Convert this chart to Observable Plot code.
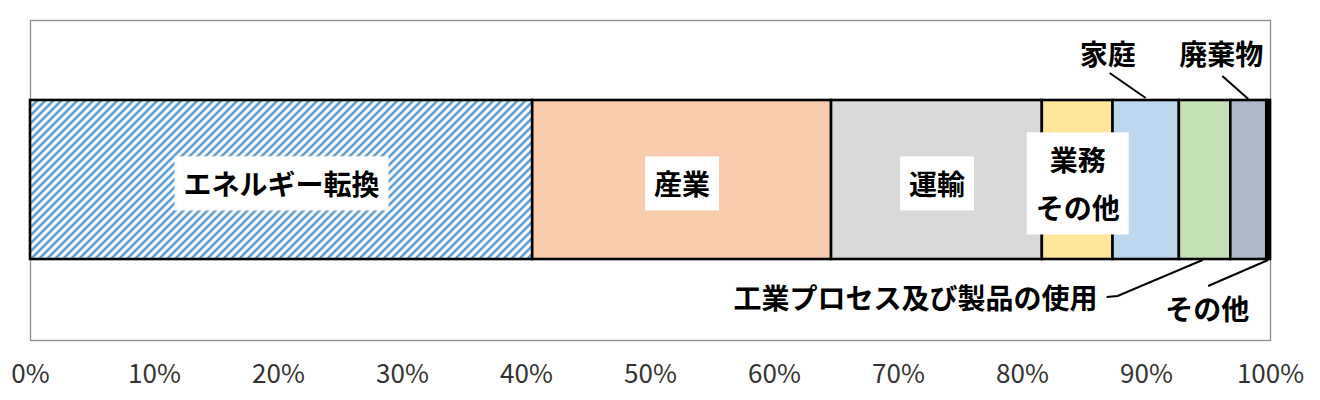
<!DOCTYPE html>
<html><head><meta charset="utf-8">
<script src="https://cdn.jsdelivr.net/npm/d3@7"></script>
<script src="https://cdn.jsdelivr.net/npm/@observablehq/plot@0.6"></script>
<style>body{margin:0;background:#fff}</style>
</head><body><div id="chart"></div>
<script>
// ---- data ----
const categories = ["エネルギー転換","産業","運輸","業務その他","家庭","工業プロセス及び製品の使用","廃棄物","その他"];
const shares = [40.5, 24.1, 17.0, 5.7, 5.35, 4.15, 2.9, 0.3];
const labelTexts = ["エネルギー転換","産業","運輸","業務\nその他","家庭","工業プロセス及び製品の使用","廃棄物","その他"];
const placements = ["inside","inside","inside","inside","above","below","above","below"];
const colors = ["url(#hatch)","#F8CBAD","#D9D9D9","#FFE699","#BDD7EE","#C5E0B4","#ADB9CA","#000000"];
const xTicks = [0,10,20,30,40,50,60,70,80,90,100];
const rowKey = "total";

const data = categories.map((c, i) => ({cat: c, share: shares[i], label: labelTexts[i], place: placements[i], row: rowKey}));

const FONT = "'Noto Sans CJK JP', 'Noto Sans', sans-serif";
const LABEL_SIZE = 28;

// offsets (px) of outside labels and leader lines relative to the segment mid at bar edge
const outsideLayout = {
  "家庭":   {tx: -38, ty: -47, anchor: "middle", line: [[-36,-27],[0,-2]]},
  "廃棄物": {tx: -27, ty: -47, anchor: "middle", line: [[-26,-24],[0,-1]]},
  "工業プロセス及び製品の使用": {tx: -107, ty: 38, anchor: "end", line: [[-98,38],[-87,37],[-2,1]]},
  "その他": {tx: -61, ty: 49, anchor: "middle", line: [[-60,27],[0,1]]}
};

function outsideMark(index, scales) {
  const x = scales.x, y = scales.y;
  const top = y(rowKey), bottom = top + (y.bandwidth ? y.bandwidth() : 160);
  const g = d3.create("svg:g");
  let cum = 0;
  data.forEach(d => {
    const mid = x(cum + d.share / 2);
    cum += d.share;
    if (d.place === "inside") return;
    const L = outsideLayout[d.label];
    const by = d.place === "above" ? top : bottom;
    g.append("path")
      .attr("d", d3.line()(L.line.map(([dx, dy]) => [mid + dx, by + dy])))
      .attr("fill", "none").attr("stroke", "#000").attr("stroke-width", 2);
    g.append("text")
      .attr("x", mid + L.tx).attr("y", by + L.ty)
      .attr("text-anchor", L.anchor).attr("dominant-baseline", "central")
      .attr("font-size", LABEL_SIZE).attr("font-weight", "bold")
      .attr("font-family", FONT).attr("fill", "#000")
      .text(d.label);
  });
  return g.node();
}

const plot = Plot.plot({
  width: 1320,
  height: 400,
  marginTop: 20,
  marginBottom: 60,
  marginLeft: 30,
  marginRight: 50,
  style: {fontFamily: FONT, background: "#fff"},
  x: {domain: [0, 100], ticks: xTicks},
  y: {domain: [rowKey], padding: 1/3, axis: null},
  color: {domain: categories, range: colors},
  marks: [
    Plot.frame({stroke: "#8c8c8c", strokeWidth: 1.3}),
    Plot.barX(data, Plot.stackX({x: "share", y: "row", fill: "cat", order: null, stroke: "#000", strokeWidth: 2.6})),
    Plot.text(data.filter(d => d.place === "inside"), Plot.stackX({
      x: "share", y: "row", text: "label", order: null,
      fontSize: LABEL_SIZE, fontWeight: "bold", fill: "#000", lineHeight: 1.72
    })),
    outsideMark,
    Plot.axisX({ticks: xTicks, tickFormat: d => d + "%", tickSize: 0, tickPadding: 24, fontSize: 26, fill: "#333", label: null})
  ]
});

document.getElementById("chart").appendChild(plot);

// hatch pattern for the first segment
const svg = d3.select(plot);
const defs = svg.insert("defs", ":first-child");
const pat = defs.append("pattern").attr("id", "hatch")
  .attr("patternUnits", "userSpaceOnUse")
  .attr("width", 5.66).attr("height", 10)
  .attr("patternTransform", "rotate(45)");
pat.append("rect").attr("width", 5.66).attr("height", 10).attr("fill", "#fff");
pat.append("rect").attr("width", 2.5).attr("height", 10).attr("fill", "#5B9BD5");

// white boxes behind inside labels
const insideTexts = new Set(data.filter(d => d.place === "inside").map(d => d.label.replace(/\n/g, "")));
plot.querySelectorAll("text").forEach(t => {
  if (!insideTexts.has(t.textContent.replace(/\n/g, ""))) return;
  if (t.closest("g[aria-label='x-axis tick label']")) return;
  const bb = t.getBBox();
  const padX = 9, padY = 7;
  const r = document.createElementNS("http://www.w3.org/2000/svg", "rect");
  r.setAttribute("x", bb.x - padX);
  r.setAttribute("y", bb.y - padY);
  r.setAttribute("width", bb.width + 2 * padX);
  r.setAttribute("height", bb.height + 2 * padY);
  r.setAttribute("fill", "#fff");
  if (t.getAttribute("transform")) r.setAttribute("transform", t.getAttribute("transform"));
  t.parentNode.insertBefore(r, t);
});
</script>
</body></html>
